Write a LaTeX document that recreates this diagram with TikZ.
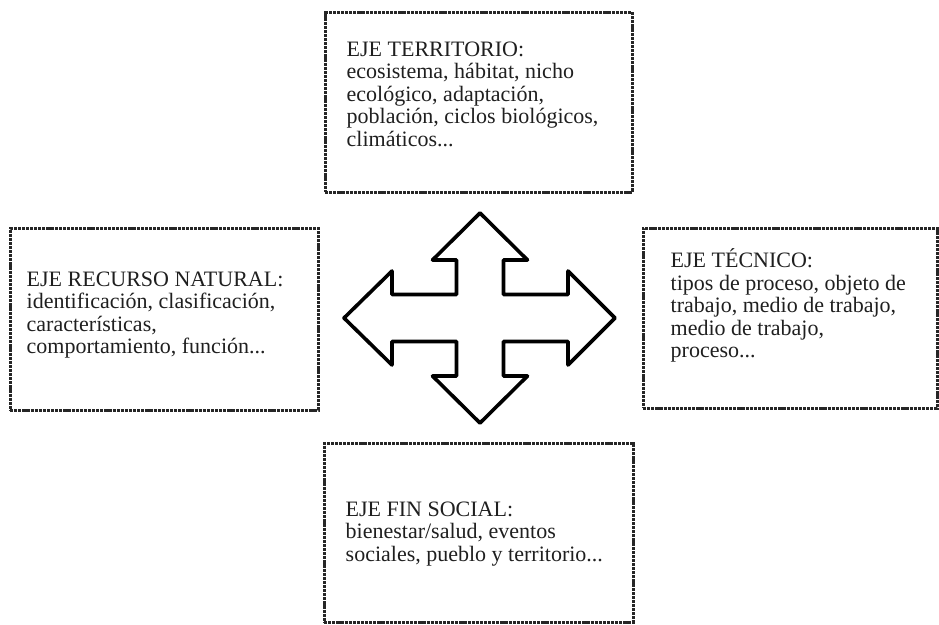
\documentclass[tikz,border=0pt]{standalone}
\usepackage{fontspec}
\setmainfont{Liberation Serif}
\usetikzlibrary{calc}
\tikzset{
  axisbox/.style={draw=black!85, line width=3pt, dash pattern=on 3.2pt off 0.9pt, rectangle, inner sep=0pt},
  axistext/.style={anchor=north west, align=left, inner sep=0pt, font=\fontsize{22}{22.5}\selectfont, text=black!88},
  crossarrow/.style={draw=black, line width=3.6pt, line join=round, fill=white}
}
\begin{document}
\begin{tikzpicture}[x=1pt, y=-1pt]
\useasboundingbox (0,0) rectangle (939,624);
% boxes
\node[axisbox, minimum width=307pt, minimum height=180pt] (top) at (478.5,102) {};
\node[axisbox, minimum width=308pt, minimum height=182pt] (left) at (164,319) {};
\node[axisbox, minimum width=294pt, minimum height=180pt] (right) at (790,318) {};
\node[axisbox, minimum width=309pt, minimum height=179pt] (bottom) at (478.5,532.5) {};
% texts
\node[axistext] (toptext) at ($(top.north west)+(23,31)$) {EJE TERRITORIO:\\ecosistema, hábitat, nicho\\ecológico, adaptación,\\población, ciclos biológicos,\\climáticos...};
\node[axistext] (lefttext) at ($(left.north west)+(18,45)$) {EJE RECURSO NATURAL:\\identificación, clasificación,\\características,\\comportamiento, función...};
\node[axistext] (righttext) at ($(right.north west)+(29,22)$) {EJE TÉCNICO:\\tipos de proceso, objeto de\\trabajo, medio de trabajo,\\medio de trabajo,\\proceso...};
\node[axistext] (bottomtext) at ($(bottom.north west)+(23,60)$) {EJE FIN SOCIAL:\\bienestar/salud, eventos\\sociales, pueblo y territorio...};
% four-way arrow
\coordinate (c) at (480,318);
\draw[crossarrow] (480,213) -- (527.5,260) -- (503.5,260) -- (503.5,294.5) -- (568,294.5) -- (568,271) -- (615,318) -- (568,365) -- (568,341.5) -- (503.5,341.5) -- (503.5,376) -- (527.5,376) -- (480,423) -- (432.5,376) -- (456.5,376) -- (456.5,341.5) -- (392,341.5) -- (392,365) -- (344,318) -- (392,271) -- (392,294.5) -- (456.5,294.5) -- (456.5,260) -- (432.5,260) -- cycle;
\end{tikzpicture}
\end{document}
